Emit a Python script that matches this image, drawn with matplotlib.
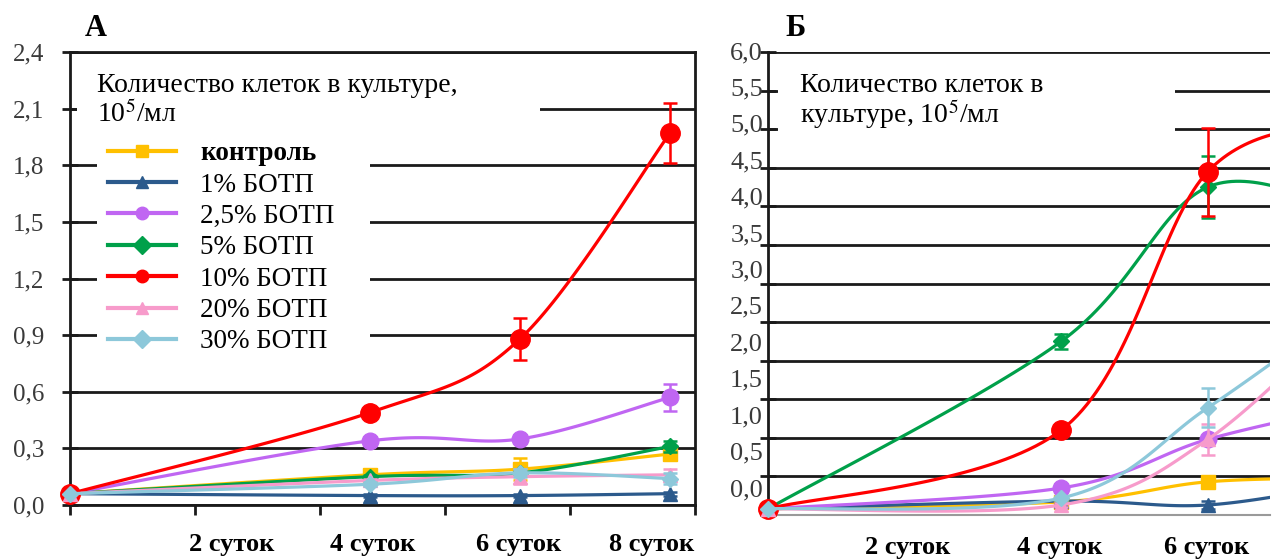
import numpy as np
import matplotlib.pyplot as plt
from matplotlib.patches import Rectangle
from matplotlib.lines import Line2D

plt.rcParams['font.family'] = ['Liberation Serif', 'DejaVu Serif']
plt.rcParams['mathtext.fontset'] = 'stix'

# ---- data ----
labels = ['контроль', '1% БОТП', '2,5% БОТП', '5% БОТП', '10% БОТП', '20% БОТП', '30% БОТП']
colors = ['#FFC000', '#2C5A8C', '#C066F2', '#00A04A', '#FF0000', '#F79BCB', '#8DC8DA']
markers = ['s', '^', 'o', 'D', 'o', '^', 'D']
msizes = [10, 10, 12, 8, 14, 10, 8]

days_a = [0, 4, 6, 8]
a_control = [0.06, 0.16, 0.19, 0.27]
a_1 = [0.06, 0.05, 0.05, 0.06]
a_25 = [0.06, 0.34, 0.35, 0.57]
a_5 = [0.06, 0.15, 0.17, 0.31]
a_10 = [0.06, 0.49, 0.88, 1.97]
a_20 = [0.06, 0.13, 0.15, 0.16]
a_30 = [0.06, 0.11, 0.17, 0.14]
a_err = [[0, 0.03, 0.06, 0.03], [0, 0.01, 0.01, 0.01], [0, 0.02, 0.02, 0.07],
         [0, 0.01, 0.01, 0.03], [0, 0.02, 0.11, 0.16], [0, 0.01, 0.04, 0.03],
         [0, 0.01, 0.02, 0.03]]

days_b = [0, 4, 6, 8]
b_control = [0.08, 0.17, 0.43, 0.48]
b_1 = [0.08, 0.18, 0.13, 0.42]
b_25 = [0.08, 0.35, 0.98, 1.42]
b_5 = [0.08, 2.25, 4.25, 3.9]
b_10 = [0.08, 1.10, 4.45, 5.1]
b_20 = [0.08, 0.13, 0.98, 2.7]
b_30 = [0.08, 0.22, 1.39, 2.75]
b_err = [[0, 0.02, 0.05, 0], [0, 0.02, 0.05, 0], [0, 0.05, 0.05, 0],
         [0, 0.1, 0.4, 0], [0, 0.05, 0.57, 0], [0, 0.03, 0.2, 0],
         [0, 0.03, 0.25, 0]]

yticks_a = np.arange(0, 2.41, 0.3)
yticks_b = np.arange(0, 6.01, 0.5)
xlab_a = ['2 суток', '4 суток', '6 суток', '8 суток']
xlab_b = ['2 суток', '4 суток', '6 суток']


def smooth(xs, ys, n=40):
    # excel-like smoothed line (cubic bezier, catmull-rom control points)
    pts = np.column_stack([xs, ys]).astype(float)
    p = np.vstack([pts[0], pts, pts[-1]])
    t = np.linspace(0, 1, n)[:, None]
    out = []
    for i in range(1, len(p) - 2):
        p0, p1, p2, p3 = p[i - 1], p[i], p[i + 1], p[i + 2]
        c1 = p1 + (p2 - p0) / 6
        c2 = p2 - (p3 - p1) / 6
        out.append((1 - t) ** 3 * p1 + 3 * (1 - t) ** 2 * t * c1
                   + 3 * (1 - t) * t ** 2 * c2 + t ** 3 * p2)
    out = np.vstack(out)
    return out[:, 0], out[:, 1]


def draw(ax, days, data, errs):
    for i, ys in enumerate(data):
        sx, sy = smooth(days, ys)
        ax.plot(sx, sy, color=colors[i], lw=2.3, zorder=3 + i * 0.1)
        ax.errorbar(days, ys, yerr=errs[i], fmt=markers[i], color=colors[i],
                    ms=msizes[i], capsize=5, elinewidth=1.8, capthick=1.8,
                    zorder=3.05 + i * 0.1, clip_on=False)


def fmt(v):
    return f'{v:.1f}'.replace('.', ',')


fig = plt.figure(figsize=(12.76, 5.6), dpi=100)

# ---- panel A ----
axA = fig.add_axes([70 / 1276, 1 - 505 / 560, 625 / 1276, 453 / 560])
axA.set_axisbelow(True)
draw(axA, days_a, [a_control, a_1, a_25, a_5, a_10, a_20, a_30], a_err)
axA.set_xlim(0, 625 / 75)
axA.set_ylim(0, 2.4)
axA.set_yticks(yticks_a)
axA.set_yticklabels([fmt(v) for v in yticks_a])
axA.set_xticks(np.arange(0, 8.34, 125 / 75))
axA.set_xticklabels([])
axA.yaxis.grid(True, color='#1a1a1a', lw=2.0)
for s in axA.spines.values():
    s.set_color('#1a1a1a')
    s.set_linewidth(2.0)
axA.tick_params(axis='y', direction='inout', length=11, width=2, color='#1a1a1a',
                labelsize=18, labelcolor='#3a3a3a', pad=13)
axA.tick_params(axis='x', direction='out', length=7, width=2, color='#1a1a1a')
for pos, lab in zip([2.15, 4.03, 5.98, 7.75], xlab_a):
    axA.text(pos, -0.088, lab, transform=axA.get_xaxis_transform(), ha='center',
             va='center', fontsize=19, weight='bold')

axA.add_patch(Rectangle((0.011, 0.83), 0.741, 0.14, transform=axA.transAxes,
                        facecolor='white', edgecolor='none', zorder=1))
axA.add_patch(Rectangle((0.043, 0.33), 0.437, 0.50, transform=axA.transAxes,
                        facecolor='white', edgecolor='none', zorder=1))
axA.text(0.043, 0.927, 'Количество клеток в культуре,', transform=axA.transAxes,
         fontsize=20, va='center', zorder=4)
axA.text(0.043, 0.862, '10$^5$/мл', transform=axA.transAxes,
         fontsize=20, va='center', zorder=4)
handles = [Line2D([], [], color=c, marker=m, lw=3.0, ms=9)
           for c, m in zip(colors, markers)]
leg = axA.legend(handles, labels, loc='upper left', bbox_to_anchor=(0.061, 0.803),
                 frameon=False, fontsize=19.5, handlelength=2.5, handletextpad=0.9,
                 labelspacing=0.235, borderpad=0, borderaxespad=0)
leg.get_texts()[0].set_fontweight('bold')

# ---- panel B ----
axB = fig.add_axes([768 / 1276, 1 - 515 / 560, 502 / 1276, 463 / 560])
axB.set_axisbelow(True)
draw(axB, days_b, [b_control, b_1, b_25, b_5, b_10, b_20, b_30], b_err)
axB.set_xlim(0, 502 / 73.3)
axB.set_ylim(0, 6.0)
axB.set_yticks(yticks_b)
axB.set_yticklabels([])
axB.set_xticks([])
axB.yaxis.grid(True, color='#1a1a1a', lw=2.0)
axB.spines['right'].set_visible(False)
axB.spines['top'].set_visible(False)
axB.spines['left'].set_color('#1a1a1a')
axB.spines['left'].set_linewidth(2.0)
axB.spines['bottom'].set_color('#9a9a9a')
axB.spines['bottom'].set_linewidth(1.5)
axB.tick_params(axis='y', direction='inout', length=12, width=2, color='#1a1a1a')
# the tick labels in the original are squeezed relative to the grid
n_b = len(yticks_b)
for k, v in enumerate(yticks_b[::-1]):
    py = 53 + k * (490 - 53) / (n_b - 1)
    axB.text(-0.01, (515 - py) / 463, fmt(v), transform=axB.transAxes,
             ha='right', va='center', fontsize=19, color='#3a3a3a')
for pos, lab in zip([1.9, 3.98, 5.98], xlab_b):
    axB.text(pos, -0.071, lab, transform=axB.get_xaxis_transform(), ha='center',
             va='center', fontsize=19, weight='bold')
axB.add_patch(Rectangle((0.02, 0.82), 0.79, 0.145, transform=axB.transAxes,
                        facecolor='white', edgecolor='none', zorder=1))
axB.text(0.064, 0.928, 'Количество клеток в', transform=axB.transAxes,
         fontsize=20, va='center', zorder=4)
axB.text(0.064, 0.866, 'культуре, 10$^5$/мл', transform=axB.transAxes,
         fontsize=20, va='center', zorder=4)

fig.text(85 / 1276, 1 - 28 / 560, 'А', fontsize=22, weight='bold', va='center')
fig.text(785 / 1276, 1 - 28 / 560, 'Б', fontsize=22, weight='bold', va='center')

fig.savefig('out.png', dpi=100)
